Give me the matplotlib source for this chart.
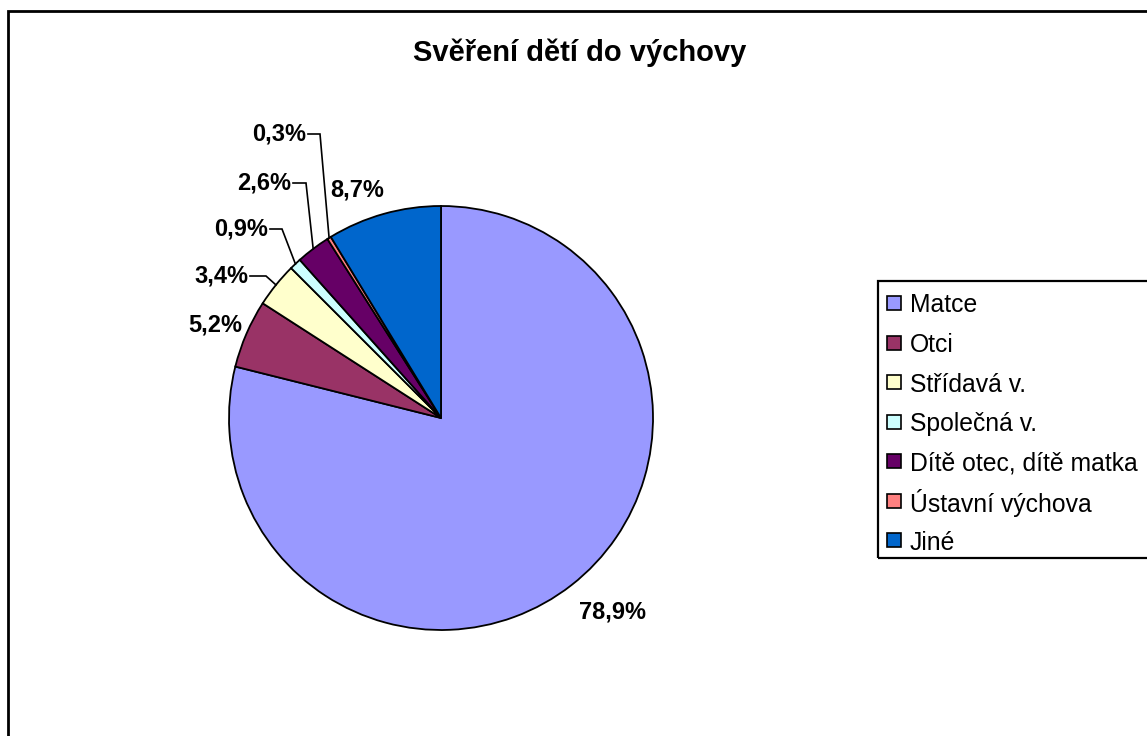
import matplotlib
matplotlib.use('Agg')
import matplotlib.pyplot as plt
from matplotlib.patches import Rectangle
import numpy as np

# data
categories = ['Matce', 'Otci', 'Střídavá v.', 'Společná v.',
              'Dítě otec, dítě matka', 'Ústavní výchova', 'Jiné']
values = [78.9, 5.2, 3.4, 0.9, 2.6, 0.3, 8.7]
colors = ['#9999FF', '#993366', '#FFFFCC', '#CCFFFF',
          '#660066', '#FF8080', '#0066CC']
title = 'Svěření dětí do výchovy'

W, H = 1147, 736
FONT = ['Liberation Sans', 'DejaVu Sans']
plt.rcParams['font.family'] = FONT


def py(y):
    # pixel row (from top) -> data y (from bottom)
    return H - y


def lbl(v):
    return f'{v:.1f}%'.replace('.', ',')


fig = plt.figure(figsize=(W / 100, H / 100), dpi=100)
ax = fig.add_axes([0, 0, 1, 1])

cx, cy, r = 441, py(418), 212
wedges, _ = ax.pie(values, colors=colors, startangle=90, counterclock=False,
                   center=(cx, cy), radius=r,
                   wedgeprops=dict(edgecolor='black', linewidth=1.3))
ax.set_xlim(0, W)
ax.set_ylim(0, H)
ax.set_aspect('equal', adjustable='box')
ax.axis('off')

lab_kw = dict(fontsize=17, fontweight='bold', va='center')

# labels without leader
ax.text(613, py(612), lbl(values[0]), ha='center', **lab_kw)
ax.text(242, py(325), lbl(values[1]), ha='right', **lab_kw)
ax.text(357, py(190), lbl(values[6]), ha='center', **lab_kw)

# labels with leader lines: (index, text right end x, text y, elbow x)
leaders = [(2, 248, 276, 266),
           (3, 268, 229, 282),
           (4, 291, 183, 306),
           (5, 306, 134, 320)]
for i, tx, ty, ex in leaders:
    w = wedges[i]
    mid = np.deg2rad((w.theta1 + w.theta2) / 2)
    px, pyy = cx + r * np.cos(mid), cy + r * np.sin(mid)
    ax.plot([tx + 2, ex, px], [py(ty), py(ty), pyy], color='black',
            linewidth=1.2, solid_joinstyle='miter')
    ax.text(tx, py(ty), lbl(values[i]), ha='right', **lab_kw)

# title
ax.text(580, py(53), title, ha='center', va='center', fontsize=21,
        fontweight='bold')

# outer frame
ax.add_patch(Rectangle((8, -20), W + 20, py(11) + 20, fill=False,
                       edgecolor='black', linewidth=2))

# legend
ax.add_patch(Rectangle((878, py(558)), 300, 558 - 281, fill=False,
                       edgecolor='black', linewidth=1.6))
for k, (name, c) in enumerate(zip(categories, colors)):
    y = 303 + k * 39.5
    ax.add_patch(Rectangle((887, py(y) - 7), 14, 14, facecolor=c,
                           edgecolor='black', linewidth=1.2))
    ax.text(910, py(y), name, ha='left', va='center_baseline', fontsize=17.8)

fig.savefig('out.png', dpi=100)
